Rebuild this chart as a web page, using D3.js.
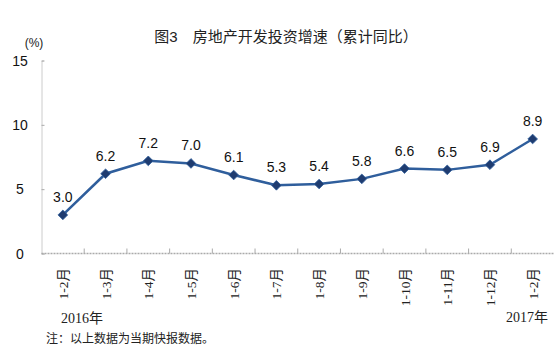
<!DOCTYPE html>
<html><head><meta charset="utf-8">
<script src="https://cdn.jsdelivr.net/npm/d3@7"></script>
<style>body{margin:0;background:#fff;}svg{display:block;}</style>
</head><body>
<script>
const categories = ["1-2月","1-3月","1-4月","1-5月","1-6月","1-7月","1-8月","1-9月","1-10月","1-11月","1-12月","1-2月"];
const values = [3.0,6.2,7.2,7.0,6.1,5.3,5.4,5.8,6.6,6.5,6.9,8.9];
const yTicks = [0,5,10,15];
const title = "图3　房地产开发投资增速（累计同比）";
const unit = "(%)";
const yearLabels = ["2016年","2017年"];
const note = "注：以上数据为当期快报数据。";

const W = 554, H = 353;
const svg = d3.select("body").append("svg").attr("width", W).attr("height", H);
const x = d3.scaleBand().domain(d3.range(categories.length)).range([41.5, 554]);
const y = d3.scaleLinear().domain([0, 15]).range([253.5, 60.5]);

const sans = "Arial, 'Liberation Sans', 'Noto Sans CJK SC', sans-serif";
const serif = "'Liberation Serif', 'Noto Sans CJK SC', serif";

svg.append("text").attr("x", 286).attr("y", 42).attr("text-anchor", "middle")
  .attr("font-family", sans).attr("font-size", 15).attr("fill", "#222").text(title);
svg.append("text").attr("x", 34).attr("y", 47).attr("text-anchor", "middle")
  .attr("font-family", sans).attr("font-size", 12).attr("fill", "#222").text(unit);

// y axis
const yAxis = d3.axisRight(y).tickValues(yTicks).tickSize(3).tickFormat("");
const gy = svg.append("g").attr("transform", "translate(41.5,0)").call(yAxis);
gy.select(".domain").attr("stroke", "#999").attr("stroke-dasharray", "1,1");
gy.selectAll(".tick line").attr("stroke", "#aaa");
svg.selectAll(".ylab").data(yTicks).join("text").attr("class","ylab")
  .attr("x", 20).attr("y", d => y(d) + 5).attr("text-anchor", "middle")
  .attr("font-family", sans).attr("font-size", 14).attr("fill", "#111").text(d => d);

// x axis
const xTickPos = d3.range(categories.length + 1).map(i => 41.5 + i * x.step());
const gx = svg.append("g");
gx.append("line").attr("x1", 41.5).attr("x2", 554).attr("y1", y(0)).attr("y2", y(0))
  .attr("stroke", "#aaa").attr("stroke-width", 1.5).attr("stroke-dasharray", "2,1");
gx.selectAll("line.t").data(xTickPos.slice(1, -1)).join("line").attr("class","t")
  .attr("x1", d => d).attr("x2", d => d).attr("y1", y(0)).attr("y2", y(0) - 5)
  .attr("stroke", "#aaa");

svg.selectAll(".xlab").data(categories).join("text").attr("class","xlab")
  .attr("transform", (d,i) => `translate(${x(i) + x.bandwidth()/2 + 5},268) rotate(-90)`)
  .attr("text-anchor", "end").attr("font-family", serif).attr("font-size", 13.5)
  .attr("fill", "#222").text(d => d);

svg.append("text").attr("x", 61).attr("y", 323).attr("font-family", serif)
  .attr("font-size", 14).attr("fill", "#222").text(yearLabels[0]);
svg.append("text").attr("x", 548).attr("y", 322).attr("text-anchor", "end").attr("font-family", serif)
  .attr("font-size", 14).attr("fill", "#222").text(yearLabels[1]);
svg.append("text").attr("x", 46).attr("y", 343).attr("font-family", serif)
  .attr("font-size", 12).attr("fill", "#222").text(note);

// line
const cx = i => x(i) + x.bandwidth()/2;
svg.append("path").datum(values).attr("fill", "none").attr("stroke", "#2f5e9c")
  .attr("stroke-width", 2.5)
  .attr("d", d3.line().x((d,i) => cx(i)).y(d => y(d)));
svg.selectAll(".pt").data(values).join("path").attr("class","pt")
  .attr("d", d3.symbol().type(d3.symbolDiamond2).size(60))
  .attr("transform", (d,i) => `translate(${cx(i)},${y(d)})`)
  .attr("fill", "#1f3c70").attr("stroke", "#2f5e9c").attr("stroke-width", 0.8);
svg.selectAll(".vl").data(values).join("text").attr("class","vl")
  .attr("x", (d,i) => cx(i)).attr("y", d => y(d) - 13).attr("text-anchor", "middle")
  .attr("font-family", sans).attr("font-size", 14).attr("fill", "#111")
  .text(d => d.toFixed(1));
</script>
</body></html>
